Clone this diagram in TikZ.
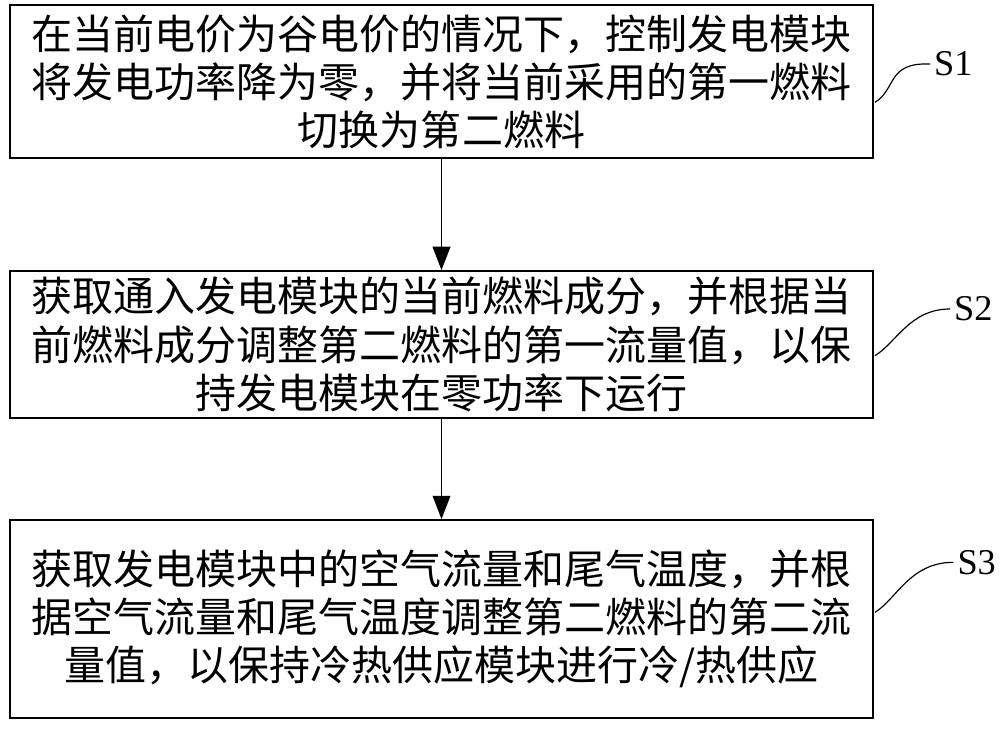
\documentclass[tikz,border=0pt]{standalone}
\usepackage{fontspec}
\setmainfont{Liberation Serif}
\newfontfamily\cjk{Noto Sans CJK SC}
\usetikzlibrary{arrows.meta}
\tikzset{
  stepbox/.style={draw,line width=1.4pt,minimum width=25.89cm,align=center,
    font=\cjk\fontsize{35}{41}\selectfont,inner sep=0pt},
  flow/.style={-{Triangle[length=20pt,width=15pt]},line width=1.6pt},
  tag/.style={font=\fontsize{31}{36}\selectfont}
}
\begin{document}
\begin{tikzpicture}
\useasboundingbox (0,0) rectangle (30,21.87);
% Steps
\node[stepbox,minimum height=4.59cm] (s1) at (13.245,19.425)
  {在当前电价为谷电价的情况下，控制发电模块\\将发电功率降为零，并将当前采用的第一燃料\\切换为第二燃料};
\node[stepbox,minimum height=4.41cm] (s2) at (13.245,11.535)
  {获取通入发电模块的当前燃料成分，并根据当\\前燃料成分调整第二燃料的第一流量值，以保\\持发电模块在零功率下运行};
\node[stepbox,minimum height=5.94cm] (s3) at (13.245,3.3)
  {获取发电模块中的空气流量和尾气温度，并根\\据空气流量和尾气温度调整第二燃料的第二流\\量值，以保持冷热供应模块进行冷/热供应};

% Arrows
\draw[flow] (s1) -- (s2);
\draw[flow] (s2) -- (s3);

% Step labels
\node[tag] (t1) at (28.6,19.95) {S1};
\node[tag] (t2) at (29.2,12.6) {S2};
\node[tag] (t3) at (29.3,5.0) {S3};
\draw[line width=1pt] (26.25,18.8) .. controls (26.9,19.2) and (26.6,20.0) .. (t1.west);
\draw[line width=1pt] (26.25,11.2) .. controls (26.9,11.6) and (27.3,12.6) .. (t2.west);
\draw[line width=1pt] (26.25,3.5) .. controls (26.9,3.9) and (27.3,5.0) .. (t3.west);
\end{tikzpicture}
\end{document}
